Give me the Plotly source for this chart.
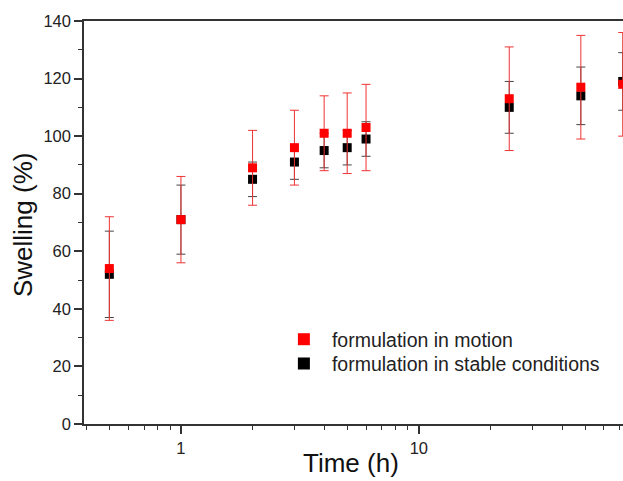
import plotly.graph_objects as go

time_h = [0.5, 1, 2, 3, 4, 5, 6, 24, 48, 72]

motion_mean = [54, 71, 89, 96, 101, 101, 103, 113, 117, 118]
motion_upper = [72, 86, 102, 109, 114, 115, 118, 131, 135, 136]
motion_lower = [36, 56, 76, 83, 88, 87, 88, 95, 99, 100]

stable_mean = [52, 71, 85, 91, 95, 96, 99, 110, 114, 119]
stable_upper = [67, 83, 91, 97, 101, 102, 105, 119, 124, 129]
stable_lower = [37, 59, 79, 85, 89, 90, 93, 101, 104, 109]

y_ticks = [0, 20, 40, 60, 80, 100, 120, 140]
x_ticks = [1, 10]

def err(mean, up, lo):
    return [u - m for u, m in zip(up, mean)], [m - l for m, l in zip(mean, lo)]

m_plus, m_minus = err(motion_mean, motion_upper, motion_lower)
s_plus, s_minus = err(stable_mean, stable_upper, stable_lower)

FONT = "Liberation Sans, Arial, sans-serif"

fig = go.Figure()
fig.add_trace(go.Scatter(
    x=time_h, y=stable_mean, mode="markers", name="formulation in stable conditions",
    marker=dict(symbol="square", size=9, color="black"),
    error_y=dict(type="data", symmetric=False, array=s_plus, arrayminus=s_minus,
                 color="#444444", thickness=1, width=4.5),
    cliponaxis=False, legend="legend2",
))
fig.add_trace(go.Scatter(
    x=time_h, y=motion_mean, mode="markers", name="formulation in motion",
    marker=dict(symbol="square", size=9, color="#ff0000"),
    error_y=dict(type="data", symmetric=False, array=m_plus, arrayminus=m_minus,
                 color="#ee3333", thickness=1, width=4.5),
    cliponaxis=False, legend="legend",
))

legend_style = dict(xanchor="left", yanchor="top",
                    font=dict(size=19.5, color="#222222"), bgcolor="rgba(0,0,0,0)",
                    itemsizing="constant", itemwidth=46)

fig.update_layout(
    width=623, height=481,
    margin=dict(l=84, r=0, t=21, b=57, autoexpand=False),
    paper_bgcolor="white", plot_bgcolor="white",
    font=dict(family=FONT, color="#222222"),
    showlegend=True,
    legend=dict(x=0.356, y=0.258, **legend_style),
    legend2=dict(x=0.356, y=0.198, **legend_style),
    xaxis=dict(
        type="log", range=[-0.4076, 1.8585], automargin=False,
        tickvals=x_ticks, ticktext=[str(v) for v in x_ticks],
        ticks="outside", ticklen=8, tickwidth=1.5, tickcolor="#333333",
        minor=dict(dtick="D1", ticks="outside", ticklen=4, tickwidth=1.2, tickcolor="#333333"),
        showline=True, linecolor="#333333", linewidth=1.5, mirror=True,
        showgrid=False, zeroline=False,
        tickfont=dict(size=16.5, color="#222222"),
    ),
    yaxis=dict(
        range=[0, 140], tickvals=y_ticks, automargin=False,
        ticks="outside", ticklen=8, tickwidth=1.5, tickcolor="#333333",
        minor=dict(dtick=10, ticks="outside", ticklen=4, tickwidth=1.2, tickcolor="#333333"),
        showline=True, linecolor="#333333", linewidth=1.5, mirror=False,
        showgrid=False, zeroline=False,
        tickfont=dict(size=16.5, color="#222222"),
    ),
    annotations=[
        dict(text="Time (h)", xref="paper", yref="paper", x=0.495, y=-0.098,
             xanchor="center", yanchor="middle", showarrow=False,
             font=dict(size=26, color="#111111")),
        dict(text="Swelling (%)", xref="paper", yref="paper", x=-0.114, y=0.495,
             xanchor="center", yanchor="middle", showarrow=False, textangle=-90,
             font=dict(size=26, color="#111111")),
    ],
)

fig.write_html(
    "out.html",
    config={"displayModeBar": False},
    post_script="document.body.style.margin='0';document.body.style.overflow='hidden';",
)
